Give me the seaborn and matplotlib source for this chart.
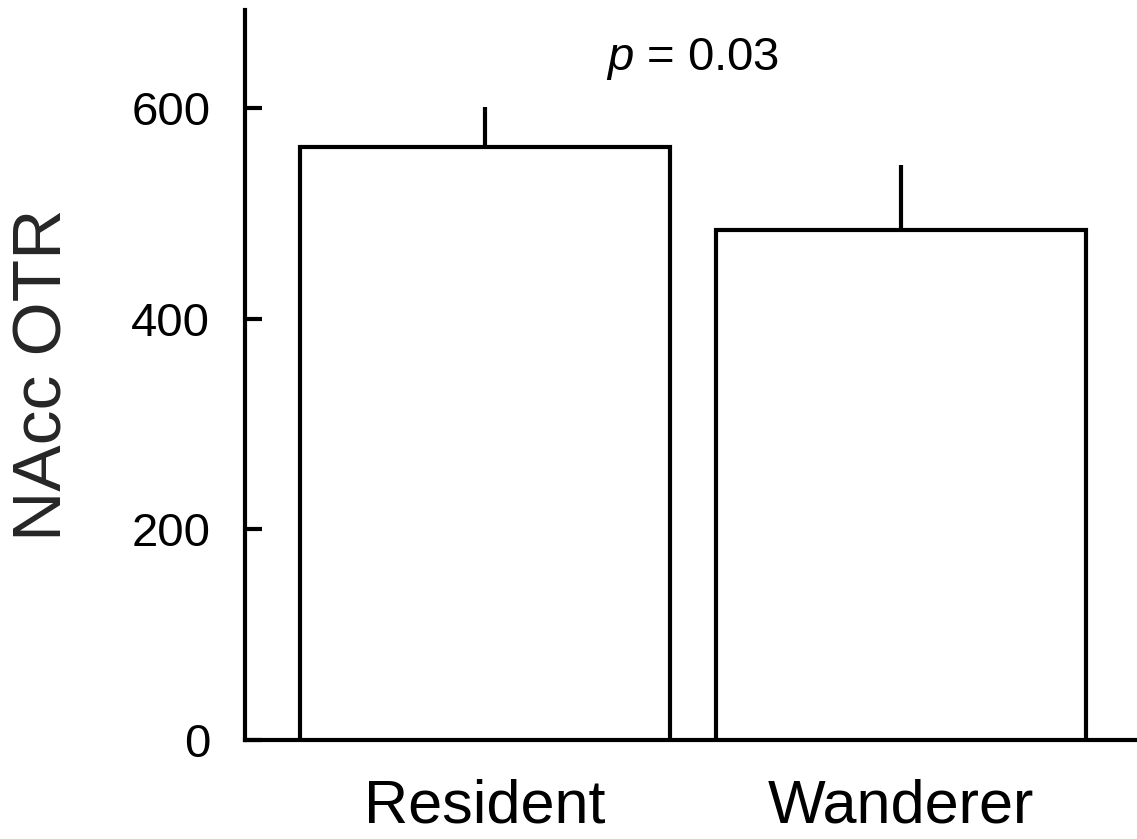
import matplotlib
matplotlib.use("Agg")
import matplotlib.pyplot as plt
import seaborn as sns
import numpy as np
import pandas as pd

groups = ["Resident", "Wanderer"]
means = [563, 484]
sem = [38, 62]
yticks = [0, 200, 400, 600]
p_text = "= 0.03"

sns.set_theme(style="white")
plt.rcParams['font.family'] = ['Liberation Sans', 'DejaVu Sans']
plt.rcParams['mathtext.fontset'] = 'custom'
plt.rcParams['mathtext.it'] = 'Liberation Sans:italic'
plt.rcParams['mathtext.rm'] = 'Liberation Sans'

df = pd.DataFrame({"group": groups, "value": means})

fig = plt.figure(figsize=(11.37, 8.39), dpi=100)
ax = fig.add_axes([0.2155, 0.118, 0.7845, 0.87])

sns.barplot(data=df, x="group", y="value", ax=ax, color="white",
            edgecolor="black", linewidth=3, width=0.89, errorbar=None,
            saturation=1, zorder=3)
ax.errorbar(range(len(groups)), means, yerr=[np.zeros(len(sem)), sem],
            fmt="none", ecolor="black", elinewidth=3, capsize=0, zorder=2)

ax.set_xlim(-0.577, 1.567)
ax.set_ylim(0, 693)
ax.set_yticks(yticks)
ax.set_yticklabels([str(t) for t in yticks])
ax.set_xlabel("")
ax.set_ylabel("NAcc OTR", fontsize=50, labelpad=40)

for s in ["top", "right"]:
    ax.spines[s].set_visible(False)
for s in ["left", "bottom"]:
    ax.spines[s].set_color("black")
    ax.spines[s].set_linewidth(3)

ax.tick_params(axis="y", direction="in", length=12, width=3, pad=25,
               labelsize=34, colors="black", left=True)
ax.tick_params(axis="x", length=0, pad=28, labelsize=44, colors="black")

ax.text(0.5, 636, r"$\it{p}$ " + p_text, fontsize=34, ha="center",
        va="baseline", color="black")

fig.savefig("out.png", dpi=100)
